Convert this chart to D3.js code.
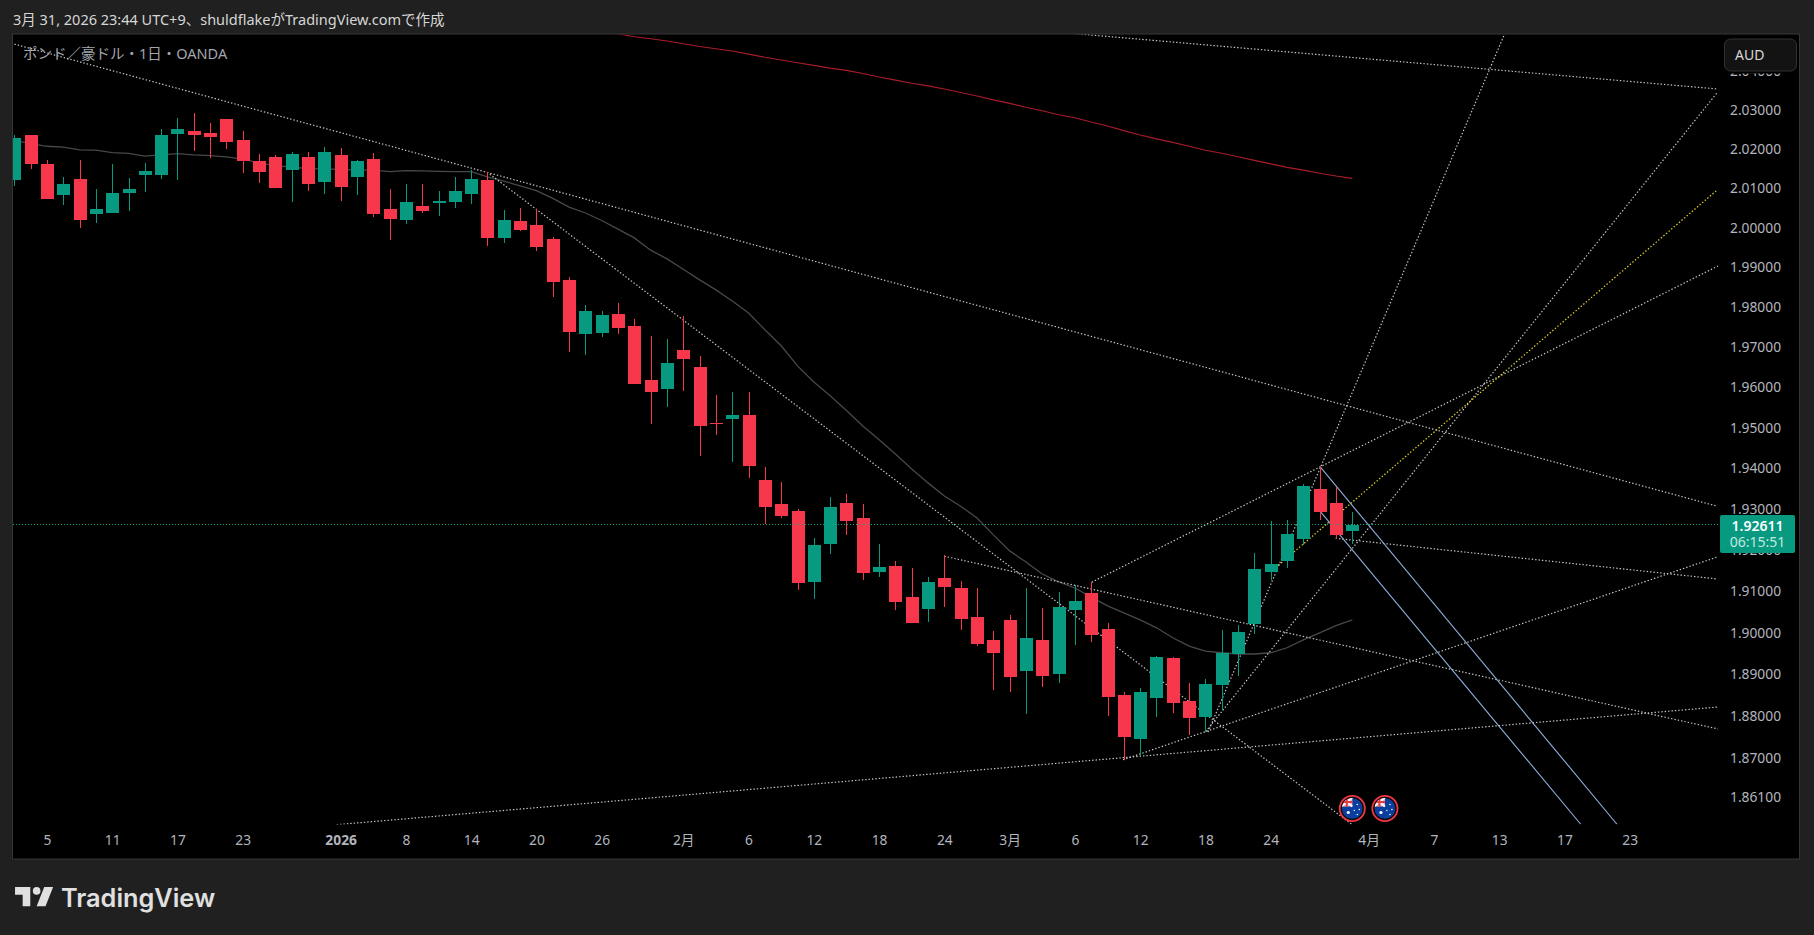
<!DOCTYPE html>
<html><head><meta charset="utf-8">
<script src="https://cdn.jsdelivr.net/npm/d3@7/dist/d3.min.js"></script>
<style>
html,body{margin:0;padding:0;background:#202020;overflow:hidden}
svg{display:block}
text{font-family:"Noto Sans","Noto Sans CJK JP",sans-serif}
</style></head><body><svg id="c" width="1814" height="935"></svg>
<script>
const open_=[2.0121,2.0236,2.0162,2.0083,2.0123,2.0034,2.0037,2.0088,2.0134,2.0134,2.0239,2.0246,2.0241,2.0277,2.0223,2.0169,2.0180,2.0146,2.0180,2.0116,2.0185,2.0129,2.0174,2.0047,2.0019,2.0055,2.0062,2.0065,2.0085,2.0121,1.9974,2.0017,2.0007,1.9971,1.9868,1.9733,1.9735,1.9783,1.9753,1.9618,1.9596,1.9693,1.9650,1.9512,1.9522,1.9532,1.9371,1.9312,1.9295,1.9123,1.9215,1.9315,1.9278,1.9147,1.9161,1.9086,1.9057,1.9132,1.9108,1.9038,1.8983,1.9031,1.8908,1.8983,1.8901,1.9055,1.9096,1.9009,1.8851,1.8746,1.8844,1.8940,1.8837,1.8799,1.8875,1.8949,1.9021,1.9147,1.9173,1.9227,1.9349,1.9315,1.9246];
const high=[2.0236,2.0236,2.0172,2.0129,2.0172,2.0098,2.0162,2.0126,2.0164,2.0251,2.0280,2.0292,2.0267,2.0277,2.0246,2.0187,2.0185,2.0192,2.0192,2.0205,2.0203,2.0172,2.0190,2.0098,2.0111,2.0111,2.0093,2.0129,2.0146,2.0141,2.0045,2.0050,2.0047,1.9976,1.9875,1.9805,1.9790,1.9810,1.9770,1.9728,1.9720,1.9778,1.9678,1.9581,1.9588,1.9588,1.9403,1.9366,1.9300,1.9229,1.9329,1.9337,1.9312,1.9215,1.9173,1.9156,1.9135,1.9188,1.9125,1.9108,1.9005,1.9043,1.9108,1.9060,1.9098,1.9115,1.9123,1.9024,1.8858,1.8868,1.8944,1.8942,1.8880,1.8889,1.9007,1.9019,1.9193,1.9271,1.9273,1.9361,1.9403,1.9354,1.9293];
const low=[2.0106,2.0149,2.0073,2.0057,1.9999,2.0012,2.0037,2.0042,2.0090,2.0123,2.0121,2.0195,2.0177,2.0200,2.0139,2.0113,2.0101,2.0065,2.0093,2.0085,2.0067,2.0083,2.0027,1.9969,2.0009,2.0037,2.0029,2.0050,2.0060,1.9954,1.9961,1.9991,1.9941,1.9825,1.9688,1.9680,1.9725,1.9733,1.9608,1.9509,1.9551,1.9591,1.9430,1.9482,1.9415,1.9376,1.9263,1.9278,1.9103,1.9081,1.9190,1.9237,1.9127,1.9135,1.9055,1.9024,1.9026,1.9062,1.9007,1.8968,1.8863,1.8858,1.8806,1.8870,1.8880,1.8971,1.8978,1.8801,1.8697,1.8706,1.8799,1.8808,1.8756,1.8763,1.8815,1.8896,1.8997,1.9127,1.9156,1.9212,1.9273,1.9227,1.9215];
const close_=[2.0228,2.0162,2.0073,2.0111,2.0019,2.0047,2.0088,2.0098,2.0144,2.0236,2.0251,2.0236,2.0231,2.0218,2.0169,2.0141,2.0101,2.0187,2.0111,2.0192,2.0103,2.0169,2.0034,2.0022,2.0065,2.0042,2.0067,2.0093,2.0123,1.9974,2.0019,1.9994,1.9951,1.9863,1.9738,1.9790,1.9780,1.9748,1.9608,1.9588,1.9660,1.9670,1.9504,1.9509,1.9532,1.9406,1.9305,1.9283,1.9120,1.9212,1.9305,1.9271,1.9144,1.9159,1.9074,1.9024,1.9123,1.9110,1.9033,1.8973,1.8952,1.8894,1.8988,1.8896,1.9062,1.9077,1.8995,1.8846,1.8751,1.8858,1.8942,1.8832,1.8796,1.8877,1.8952,1.9002,1.9154,1.9166,1.9239,1.9356,1.9293,1.9237,1.92611];
const maGrey=[2.0222,2.0214,2.0207,2.0205,2.0198,2.0197,2.0191,2.0189,2.0182,2.0185,2.0188,2.0185,2.0183,2.0180,2.0174,2.0165,2.0157,2.0154,2.0150,2.0149,2.0148,2.0146,2.0146,2.0142,2.0145,2.0144,2.0143,2.0142,2.0142,2.0129,2.0118,2.0106,2.0094,2.0074,2.0052,2.0037,2.0018,1.9996,1.9974,1.9943,1.9921,1.9895,1.9868,1.9843,1.9815,1.9785,1.9743,1.9703,1.9653,1.9613,1.9579,1.9542,1.9504,1.9470,1.9435,1.9398,1.9364,1.9332,1.9307,1.9278,1.9237,1.9198,1.9171,1.9142,1.9123,1.9108,1.9086,1.9065,1.9048,1.9031,1.9012,1.8988,1.8968,1.8956,1.8952,1.8949,1.8949,1.8952,1.8964,1.8983,1.9000,1.9017,1.9031];
const maRedStart=36;
const maRed=[2.0505,2.0497,2.0489,2.0484,2.0478,2.0471,2.0464,2.0458,2.0452,2.0444,2.0436,2.0429,2.0422,2.0415,2.0408,2.0402,2.0394,2.0385,2.0377,2.0369,2.0362,2.0354,2.0345,2.0336,2.0326,2.0317,2.0307,2.0298,2.0288,2.0280,2.0269,2.0259,2.0247,2.0236,2.0226,2.0217,2.0207,2.0197,2.0189,2.0180,2.0171,2.0162,2.0153,2.0146,2.0138,2.0131,2.0125];
// trend lines: [bar, price, bar, price]
const greyLines=[[60.41,2.0514,104.41,2.0354],[0.01,2.0470,104.35,1.9307],[28.97,2.0141,81.96,1.8545],[57.0,1.9185,104.41,1.8770],[19.76,1.8544,104.41,1.88223],[67.95,1.8697,104.35,1.9183],[66.03,1.9122,104.41,1.9903],[73.16,1.8763,91.36,2.0499],[73.02,1.8764,104.35,2.0344],[80.98,1.92285,104.35,1.9130]];
const yellowLines=[[77,1.9147,104.35,2.0095]];
const blueLines=[[80.06,1.9402,98.22,1.8545],[80.06,1.9293,96.0,1.8545]];
const lastPrice=1.92611, lastLabel="1.92611", countdown="06:15:51";
const priceTicks=[2.04,2.03,2.02,2.01,2.00,1.99,1.98,1.97,1.96,1.95,1.94,1.93,1.92,1.91,1.90,1.89,1.88,1.87,1.861];
const timeBars=[2,6,10,14,20,24,28,32,36,41,45,49,53,57,61,65,69,73,77,83,87,91,95,99];
const timeLabels=["5","11","17","23","2026","8","14","20","26","2月","6","12","18","24","3月","6","12","18","24","4月","7","13","17","23"];
const eventBars=[82,84];
const headerText="3月 31, 2026 23:44 UTC+9、shuldflakeがTradingView.comで作成";
const legendText="ポンド／豪ドル・1日・OANDA";

const UP="#089981",DOWN="#f7374b";
const svg=d3.select("#c");
const P={l:12.5,t:34,r:1799.5,b:859,clipR:1718,clipB:824};
const x=d3.scaleLinear().domain([0,100]).range([14.3,1646]);
const y=d3.scaleLog().domain([2.03,1.87]).range([110,758.5]);

svg.append("rect").attr("width",1814).attr("height",935).attr("fill","#202020");
svg.append("rect").attr("x",P.l).attr("y",P.t).attr("width",P.r-P.l).attr("height",P.b-P.t)
  .attr("fill","#000").attr("stroke","#363636").attr("stroke-width",1);
svg.append("text").attr("x",13).attr("y",24.5).attr("font-size",14.5).attr("fill","#d6d6d6").text(headerText);

const defs=svg.append("defs");
defs.append("clipPath").attr("id","plot").append("rect").attr("x",13).attr("y",P.t+.5).attr("width",P.clipR-13).attr("height",P.clipB-P.t);
defs.append("clipPath").attr("id","flag").append("circle").attr("r",10.5);

const plot=svg.append("g").attr("clip-path","url(#plot)");
const mk=d3.line().x(d=>x(d[0])).y(d=>y(d[1])).curve(d3.curveLinear);
plot.append("path").attr("d",mk(maRed.map((v,i)=>[i+maRedStart,v]))).attr("fill","none").attr("stroke","#a81c2c").attr("stroke-width",1.1);
plot.append("path").attr("d",mk(maGrey.map((v,i)=>[i,v]))).attr("fill","none").attr("stroke","#484848").attr("stroke-width",1.3);
function lines(a,col,dash,w){
  plot.selectAll(null).data(a).enter().append("line")
   .attr("x1",d=>x(d[0])).attr("y1",d=>y(d[1])).attr("x2",d=>x(d[2])).attr("y2",d=>y(d[3]))
   .attr("stroke",col).attr("stroke-width",w).attr("stroke-dasharray",dash);
}
lines(greyLines,"#c8c8c8","1.4 2",1.2);
lines(yellowLines,"#e6d42c","1.4 2",1.25);
lines(blueLines,"#8fb0dc",null,1.1);

const bars=d3.range(open_.length);
const col=i=>close_[i]>=open_[i]?UP:DOWN;
const cg=plot.append("g").attr("shape-rendering","crispEdges");
cg.selectAll(".w").data(bars).enter().append("rect")
  .attr("x",i=>Math.round(x(i))-.5).attr("width",1)
  .attr("y",i=>y(high[i])).attr("height",i=>y(low[i])-y(high[i])).attr("fill",col);
cg.selectAll(".b").data(bars).enter().append("rect")
  .attr("x",i=>Math.round(x(i))-6.5).attr("width",13)
  .attr("y",i=>y(Math.max(open_[i],close_[i])))
  .attr("height",i=>Math.max(1,Math.abs(y(open_[i])-y(close_[i])))).attr("fill",col);

plot.append("line").attr("x1",P.l).attr("x2",P.clipR).attr("y1",y(lastPrice)).attr("y2",y(lastPrice))
  .attr("stroke","#0aa88d").attr("stroke-width",1).attr("stroke-dasharray","1 2").attr("shape-rendering","crispEdges");

svg.append("text").attr("x",23).attr("y",59).attr("font-size",14.5).attr("fill","#a3a6af").text(legendText);

// axes
const yAxis=d3.axisRight(y).tickValues(priceTicks).tickSize(0).tickPadding(0).tickFormat(d3.format(".5f"));
const gy=svg.append("g").attr("transform","translate(1730,0)").call(yAxis);
gy.select(".domain").remove();
gy.selectAll("text").attr("font-size",13.8).attr("fill","#b2b5be").attr("font-family",null);
const xAxis=d3.axisBottom(x).tickValues(timeBars).tickSize(0).tickPadding(0).tickFormat(d=>timeLabels[timeBars.indexOf(d)]);
const gx=svg.append("g").attr("transform","translate(0,835)").call(xAxis);
gx.select(".domain").remove();
gx.selectAll("text").attr("font-size",13.8).attr("fill","#b2b5be").attr("font-family",null)
  .attr("font-weight",d=>timeLabels[timeBars.indexOf(d)]==="2026"?700:400);

// events
const ev=svg.append("g").selectAll("g").data(eventBars).enter().append("g")
  .attr("transform",d=>`translate(${x(d)},808.5)`);
ev.append("circle").attr("r",12.6).attr("fill","#0c0c0c").attr("stroke","#f23645").attr("stroke-width",1.8);
const fl=ev.append("g").attr("clip-path","url(#flag)");
fl.append("circle").attr("r",10.5).attr("fill","#0b3f9f");
fl.append("rect").attr("x",-11).attr("y",-11).attr("width",11).attr("height",9).attr("fill","#f2b5b8");
fl.append("path").attr("d","M-11 -11L0 -2M0 -11L-11 -2").attr("stroke","#fff").attr("stroke-width",2);
fl.append("path").attr("d","M-5.5 -11V-2M-11 -6.5H0").attr("stroke","#e8384a").attr("stroke-width",2);
[[-4,4,1.6],[5,-4,.8],[7,1,.8],[2,2,.7],[5,6,.8]].forEach(s=>fl.append("circle").attr("cx",s[0]).attr("cy",s[1]).attr("r",s[2]).attr("fill","#fff"));

// price label
const ly=y(lastPrice);
svg.append("rect").attr("x",1720).attr("y",ly-10).attr("width",75).attr("height",38).attr("rx",2).attr("fill",UP);
svg.append("text").attr("x",1757.5).attr("y",ly+6).attr("text-anchor","middle").attr("font-size",14).attr("font-weight",600).attr("fill","#fff").text(lastLabel);
svg.append("text").attr("x",1757.5).attr("y",ly+22).attr("text-anchor","middle").attr("font-size",14).attr("fill","#c4e8df").text(countdown);

// currency button
svg.append("rect").attr("x",1722).attr("y",66).attr("width",76).attr("height",7.5).attr("fill","#000");
svg.append("rect").attr("x",1724.5).attr("y",39).attr("width",72).attr("height",32).attr("rx",6).attr("fill","#131313").attr("stroke","#333");
svg.append("text").attr("x",1735).attr("y",59.5).attr("font-size",14).attr("fill","#d8d8d8").text("AUD");

// logo
svg.append("path").attr("transform","translate(12.5,879.5) scale(1.27)")
  .attr("d","M14 6H2v6h6v9h6V6Zm12 15h-7l6-15h7l-6 15Zm-7-9a3 3 0 1 0 0-6 3 3 0 0 0 0 6Z").attr("fill","#e0e0e0");
svg.append("text").attr("x",61).attr("y",907).attr("font-size",25.3).attr("font-weight",600).attr("fill","#e0e0e0")
  .style("font-family","Inter").text("TradingView");
</script></body></html>
